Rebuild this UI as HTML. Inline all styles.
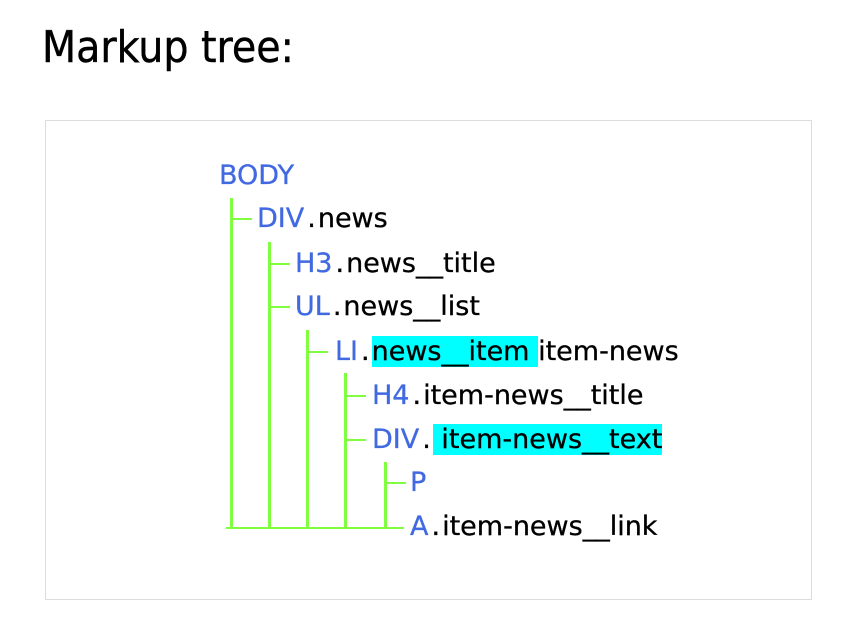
<!DOCTYPE html>
<html><head><style>
body{margin:0;width:858px;height:640px;background:#fff;position:relative;overflow:hidden;font-family:"DejaVu Sans","Liberation Sans",sans-serif;}
h1{position:absolute;left:42px;top:21px;margin:0;font-weight:normal;font-size:44px;line-height:54px;color:#000;font-family:"DejaVu Sans Condensed","DejaVu Sans",sans-serif;-webkit-text-stroke:0.4px #000;}
.box{position:absolute;left:45px;top:120px;width:765px;height:478px;border:1px solid #dcdcdc;}
.r{position:absolute;font-size:27px;line-height:32px;height:32px;white-space:nowrap;color:#000;-webkit-text-stroke:0.3px currentColor;}
.t{color:#4169e1}
.d{padding:0 2px 0 3px}
.h{background:#00ffff}
.v{position:absolute;width:3px;background:#80ff40}
.hz{position:absolute;height:2px;background:#80ff40}
</style></head><body>
<h1>Markup tree:</h1>
<div class="box"></div>

<div class="v" style="left:230px;top:198px;height:331px"></div>
<div class="v" style="left:268px;top:242px;height:287px"></div>
<div class="v" style="left:306px;top:330px;height:199px"></div>
<div class="v" style="left:344px;top:373px;height:156px"></div>
<div class="v" style="left:384px;top:462px;height:67px"></div>
<div class="hz" style="left:226px;top:527px;width:178px"></div>

<div class="hz" style="left:230px;top:218px;width:22px"></div>
<div class="hz" style="left:268px;top:263px;width:22px"></div>
<div class="hz" style="left:268px;top:306px;width:22px"></div>
<div class="hz" style="left:306px;top:351px;width:22px"></div>
<div class="hz" style="left:344px;top:395px;width:22px"></div>
<div class="hz" style="left:344px;top:439px;width:22px"></div>
<div class="hz" style="left:384px;top:482px;width:22px"></div>

<div class="r" style="left:219px;top:160px"><span class="t">BODY</span></div>
<div class="r" style="left:257px;top:203px"><span class="t">DIV</span><span class="d">.</span>news</div>
<div class="r" style="left:295px;top:248px"><span class="t">H3</span><span class="d">.</span>news__title</div>
<div class="r" style="left:295px;top:291px"><span class="t">UL</span><span class="d">.</span>news__list</div>
<div class="r" style="left:335px;top:336px"><span class="t">LI</span><span class="d">.</span><span class="h">news__item </span>item-news</div>
<div class="r" style="left:372px;top:380px"><span class="t">H4</span><span class="d">.</span>item-news__title</div>
<div class="r" style="left:372px;top:424px"><span class="t">DIV</span><span class="d">.</span><span class="h"> item-news__text </span></div>
<div class="r" style="left:410px;top:467px"><span class="t">P</span></div>
<div class="r" style="left:410px;top:511px"><span class="t">A</span><span class="d">.</span>item-news__link</div>
</body></html>
